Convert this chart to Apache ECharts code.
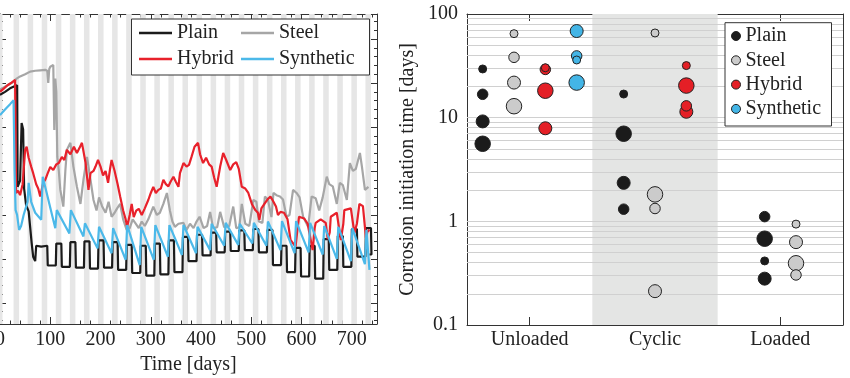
<!DOCTYPE html>
<html><head><meta charset="utf-8">
<script src="https://cdn.jsdelivr.net/npm/echarts@6/dist/echarts.min.js"></script>
<style>html,body{margin:0;padding:0;background:#fff}#c{width:850px;height:378px}</style>
</head><body><div id="c"></div>
<script>
// ================= LEFT PANEL DATA (time series, value units: mV) =================
const wetPeriods = [[0,5],[27,38],[55,66],[83,94],[111,122],[139,150],[167,178],[195,206],[223,234],[251,262],[279,290],[307,318],[335,346],[363,374],[391,402],[419,430],[447,458],[475,486],[503,514],[531,542],[559,570],[587,598],[615,626],[643,654],[671,682],[699,710],[727,738]];
const timeTicks = [0,100,200,300,400,500,600,700];

// Plain: explicit early part, then per-cycle plateau values (cycles 3..26)
const plainEarly = [[0,-127],[10,-120],[20,-112],[30,-107],[34,-105],[35,-336],[40,-322],[43,-191],[46,-205],[48,-340],[52,-378],[57,-392],[63,-464],[66,-495],[70,-505],[72,-470],[82,-472]];
const plainHigh = [-470,-465,-462,-460,-458,-462,-468,-470,-465,-458,-450,-445,-440,-438,-435,-432,-434,-470,-475,-470,-455,-448,-432,-430];
const plainLow  = [-515,-518,-520,-522,-520,-525,-532,-538,-535,-530,-505,-492,-485,-482,-480,-485,-514,-530,-540,-545,-525,-518,-495,-490];

// Synthetic: explicit early part, then per-cycle peak / trough (cycles 3..26)
const synthEarly = [[0,-173],[10,-160],[20,-148],[27,-139],[29,-300],[31,-389],[34,-400],[38,-434],[42,-425],[47,-400],[52,-381],[55,-370],[57,-327],[62,-370],[70,-395],[82,-411]];
const synthPeak = [-313,-389,-389,-419,-427,-430,-423,-427,-423,-423,-423,-427,-420,-418,-420,-418,-415,-414,-414,-418,-425,-427,-430,-434];
const synthLow  = [-430,-442,-449,-476,-487,-502,-514,-502,-495,-491,-487,-480,-470,-468,-465,-470,-480,-487,-485,-490,-500,-505,-512,-525];

// Hybrid (explicit)
const hybridSeries = [[0,-120],[8,-112],[15,-105],[22,-100],[30,-93],[32,-350],[36,-345],[40,-355],[45,-330],[50,-252],[53,-245],[57,-270],[62,-290],[66,-305],[72,-330],[76,-340],[80,-358],[86,-327],[90,-320],[95,-305],[100,-291],[106,-298],[112,-285],[117,-282],[123,-268],[128,-275],[133,-252],[140,-262],[147,-245],[153,-259],[158,-248],[163,-236],[166,-240],[170,-280],[176,-343],[180,-305],[186,-300],[190,-290],[195,-275],[200,-290],[205,-310],[210,-300],[215,-327],[219,-295],[222,-275],[228,-300],[234,-330],[239,-358],[245,-390],[250,-410],[253,-427],[258,-400],[262,-375],[266,-405],[271,-390],[276,-386],[282,-400],[288,-385],[295,-366],[300,-350],[305,-336],[310,-350],[315,-343],[320,-340],[325,-320],[330,-330],[335,-335],[339,-325],[345,-313],[350,-325],[355,-336],[358,-305],[365,-282],[371,-290],[376,-286],[381,-268],[387,-245],[394,-236],[398,-262],[404,-282],[410,-270],[416,-285],[421,-290],[426,-315],[431,-336],[438,-290],[444,-259],[450,-275],[458,-298],[464,-285],[470,-280],[475,-295],[481,-336],[488,-340],[494,-350],[501,-375],[508,-389],[513,-395],[516,-411],[520,-385],[526,-375],[532,-365],[538,-358],[544,-370],[549,-381],[553,-400],[558,-393],[565,-395],[572,-410],[578,-457],[588,-472],[592,-430],[595,-404],[605,-408],[612,-420],[622,-480],[626,-430],[628,-418],[638,-410],[648,-418],[652,-455],[656,-440],[658,-404],[670,-395],[678,-457],[683,-420],[685,-389],[698,-385],[705,-441],[710,-420],[715,-375],[722,-380],[728,-452],[731,-438],[735,-434]];

// Steel (explicit)
const steelSeries = [[0,-115],[15,-105],[27,-97],[33,-90],[40,-85],[50,-80],[60,-74],[70,-72],[80,-71],[90,-70],[94,-72],[96,-100],[98,-68],[100,-63],[106,-59],[108,-207],[110,-90],[112,-120],[114,-268],[117,-300],[120,-343],[126,-381],[130,-300],[133,-252],[140,-236],[146,-290],[153,-336],[160,-375],[166,-320],[173,-268],[180,-320],[186,-366],[192,-390],[197,-360],[203,-380],[210,-395],[216,-370],[222,-404],[228,-395],[233,-385],[239,-375],[245,-410],[252,-434],[258,-430],[264,-410],[270,-420],[276,-430],[282,-415],[288,-425],[295,-410],[305,-381],[312,-400],[318,-395],[325,-375],[332,-350],[338,-390],[343,-415],[348,-427],[355,-420],[365,-418],[371,-434],[378,-420],[385,-430],[391,-415],[397,-404],[405,-430],[412,-425],[418,-393],[424,-430],[432,-428],[438,-393],[446,-428],[456,-425],[464,-381],[470,-430],[476,-428],[481,-375],[488,-420],[496,-425],[504,-366],[510,-370],[515,-415],[522,-418],[527,-358],[533,-365],[540,-405],[544,-350],[550,-355],[557,-358],[563,-365],[570,-404],[576,-400],[583,-343],[590,-350],[596,-360],[603,-404],[613,-427],[620,-358],[628,-362],[635,-390],[642,-360],[650,-313],[655,-330],[662,-335],[670,-375],[676,-327],[682,-332],[690,-366],[696,-282],[702,-300],[708,-295],[716,-259],[720,-290],[726,-343],[733,-336]];

// ================= RIGHT PANEL DATA =================
const groups = ['Unloaded','Cyclic','Loaded'];
// [groupIndex, initiation time (days), specimen size class]
const plainPts  = [[0,5.6,4],[0,9.2,3],[0,16.8,2],[0,29.5,1],[1,7.0,4],[1,2.35,3],[1,1.31,2],[1,16.9,1],[2,0.68,4],[2,0.28,3],[2,1.11,2],[2,0.415,1]];
const steelPts  = [[0,12.9,4],[0,21.8,3],[0,38.2,2],[0,64.6,1],[1,1.82,4],[1,0.212,3],[1,1.33,2],[1,65.6,1],[2,0.394,4],[2,0.63,3],[2,0.304,2],[2,0.94,1]];
const hybridPts = [[0,18.2,4],[0,7.9,3],[0,29.2,2],[0,30.3,1],[1,20.4,4],[1,11.4,3],[1,13.0,2],[1,31.8,1]];
const synthPts  = [[0,21.8,4],[0,68.5,3],[0,39.4,2],[0,36.0,1]];
const yTicksRight = [0.1,1,10,100];

// ================= BUILD =================
const FONT = 'Liberation Serif';
const FS = 20;
const TXT = '#222';
const AX = '#333';
const LINE_COL = {Plain:'#1b1b1b', Steel:'#a6a6a6', Hybrid:'#e8212b', Synthetic:'#4cb9e9'};
const DOT_COL  = {Plain:'#1b1b1b', Steel:'#cbcbcb', Hybrid:'#e41f26', Synthetic:'#43b5e6'};

function plateauSeries(early, highs, lows, firstK) {
  const out = early.slice();
  for (let i = 0; i < highs.length; i++) {
    const k = firstK + i;
    const s = wetPeriods[k][0], e = wetPeriods[k][1];
    out.push([s, out[out.length-1][1]]);
    out.push([s+1, highs[i]]);
    out.push([e, highs[i]]);
    out.push([e+1, lows[i]]);
  }
  out.push([735, lows[lows.length-1]]);
  return out;
}
function sawSeries(early, peaks, lows, firstK) {
  const out = early.slice();
  for (let i = 0; i < peaks.length; i++) {
    const k = firstK + i;
    const s = wetPeriods[k][0];
    const next = (k+1 < wetPeriods.length) ? wetPeriods[k+1][0]-1 : 735;
    out.push([s, out[out.length-1][1]]);
    out.push([s+2, peaks[i]]);
    out.push([next, lows[i]]);
  }
  return out;
}
const plainSeries = plateauSeries(plainEarly, plainHigh, plainLow, 3);
const synthSeries = sawSeries(synthEarly, synthPeak, synthLow, 3);

const scatterDefs = [
  {name:'Plain', pts:plainPts},
  {name:'Steel', pts:steelPts},
  {name:'Hybrid', pts:hybridPts},
  {name:'Synthetic', pts:synthPts}
];
const diam = {1:8, 2:10.5, 3:13, 4:15.5};
const scatterSeries = scatterDefs.map((d) => ({
  name: d.name, type: 'scatter', xAxisIndex: 4, yAxisIndex: 2, z: 4,
  symbol: 'circle',
  symbolSize: (v) => diam[v[2]],
  itemStyle: {color: DOT_COL[d.name], borderColor: '#222', borderWidth: 1, opacity: 1},
  data: d.pts.map((p) => {
    const present = scatterDefs.filter(o => o.pts.some(q => q[0] === p[0]));
    const rank = present.indexOf(d);
    const off = (rank - (present.length - 1) / 2) * 0.25;
    return [p[0] + 0.5 + off, p[1], p[2]];
  })
}));

const gridVals = [];
[0.1,1,10].forEach(dec => { for (let m = 1; m <= 9; m++) if (!(dec===0.1 && m===1)) gridVals.push(+(m*dec).toPrecision(3)); });

const tickCommon = {show:true, inside:true, length:7, lineStyle:{color:AX, width:1}};
const lineCommon = {show:true, onZero:false, lineStyle:{color:AX, width:1}};
const lab = {fontFamily:FONT, fontSize:FS, color:TXT};

const lineLegendItem = (n) => ({name:n, icon:'rect', itemStyle:{color:LINE_COL[n], borderWidth:0, opacity:1}});
const dotLegendItem = (n) => ({name:n, icon:'circle', itemStyle:{color:DOT_COL[n], borderColor:'#222', borderWidth:1, opacity:1}});

const option = {
  animation: false,
  backgroundColor: '#fff',
  grid: [
    {left:0, right:473, top:14, bottom:54, containLabel:false, outerBoundsMode:'none'},
    {left:467, right:7, top:14, bottom:53, containLabel:false, outerBoundsMode:'none'}
  ],
  xAxis: [
    {type:'value', gridIndex:0, position:'bottom', min:0, max:750, interval:100,
     axisLine:lineCommon, axisTick:tickCommon, minorTick:{show:true, splitNumber:5, length:3.5, lineStyle:{color:AX}},
     splitLine:{show:false},
     axisLabel:Object.assign({margin:6, showMaxLabel:false}, lab),
     name:'Time [days]', nameLocation:'middle', nameGap:30, nameTextStyle:lab},
    {type:'value', gridIndex:0, position:'top', min:0, max:750, interval:100,
     axisLine:lineCommon, axisTick:tickCommon, minorTick:{show:true, splitNumber:5, length:3.5, lineStyle:{color:AX}},
     splitLine:{show:false}, axisLabel:{show:false}},
    {type:'category', gridIndex:1, position:'bottom', data:groups, boundaryGap:true,
     axisLine:lineCommon, axisTick:Object.assign({alignWithLabel:true}, tickCommon, {length:8}),
     axisLabel:Object.assign({margin:5}, lab)},
    {type:'category', gridIndex:1, position:'top', data:groups, boundaryGap:true,
     axisLine:lineCommon, axisTick:Object.assign({alignWithLabel:true}, tickCommon, {length:7}),
     axisLabel:{show:false}},
    {type:'value', gridIndex:1, min:0, max:3, show:false}
  ],
  yAxis: [
    {type:'value', gridIndex:0, position:'left', min:-648, max:57,
     axisLine:lineCommon, axisTick:Object.assign({}, tickCommon, {length:6}),
     minorTick:{show:true, splitNumber:5, length:3, lineStyle:{color:AX}},
     splitLine:{show:false}, axisLabel:{show:false}},
    {type:'value', gridIndex:0, position:'right', min:-648, max:57,
     axisLine:lineCommon, axisTick:Object.assign({}, tickCommon, {length:6}),
     minorTick:{show:true, splitNumber:5, length:3, lineStyle:{color:AX}},
     splitLine:{show:false}, axisLabel:{show:false}},
    {type:'log', logBase:10, gridIndex:1, position:'left', min:yTicksRight[0], max:yTicksRight[yTicksRight.length-1],
     axisLine:lineCommon, axisTick:Object.assign({}, tickCommon, {length:8}),
     splitLine:{show:false}, minorTick:{show:false},
     axisLabel:Object.assign({margin:9}, lab),
     name:'Corrosion initiation time [days]', nameLocation:'middle', nameGap:49, nameTextStyle:lab},
    {type:'log', logBase:10, gridIndex:1, position:'right', min:0.1, max:100,
     axisLine:lineCommon, axisTick:Object.assign({}, tickCommon, {length:8}),
     splitLine:{show:false}, axisLabel:{show:false}}
  ],
  legend: [
    {data:['Plain','Hybrid'].map(lineLegendItem), orient:'vertical', left:139, top:23, padding:0, itemGap:6,
     itemWidth:33, itemHeight:2.6, textStyle:lab, selectedMode:false, z:20},
    {data:['Steel','Synthetic'].map(lineLegendItem), orient:'vertical', left:241, top:23, padding:0, itemGap:6,
     itemWidth:33, itemHeight:2.6, textStyle:lab, selectedMode:false, z:20},
    {data:['Plain','Steel','Hybrid','Synthetic'].map(dotLegendItem), orient:'vertical', left:731, top:26, padding:0, itemGap:4.3,
     itemWidth:9, itemHeight:9, textStyle:lab, selectedMode:false, z:20}
  ],
  graphic: [
    {type:'rect', z:15, shape:{x:131.5, y:19, width:238, height:56}, style:{fill:'#fff', stroke:AX, lineWidth:1}},
    {type:'rect', z:15, shape:{x:725, y:22.7, width:106.5, height:103.3}, style:{fill:'#fff', stroke:AX, lineWidth:1}}
  ],
  series: [
    {name:'wet', type:'line', xAxisIndex:0, yAxisIndex:0, data:[], silent:true, z:1,
     markArea:{silent:true, z:1, itemStyle:{color:'#e6e6e6'},
       data: wetPeriods.map(p => [{xAxis:p[0]},{xAxis:p[1]}])}},
    {name:'Plain', type:'line', xAxisIndex:0, yAxisIndex:0, data:plainSeries, symbol:'none', color:LINE_COL.Plain, lineStyle:{width:2.2}, z:3},
    {name:'Steel', type:'line', xAxisIndex:0, yAxisIndex:0, data:steelSeries, symbol:'none', color:LINE_COL.Steel, lineStyle:{width:2.2}, z:3},
    {name:'Hybrid', type:'line', xAxisIndex:0, yAxisIndex:0, data:hybridSeries, symbol:'none', color:LINE_COL.Hybrid, lineStyle:{width:2.2}, z:3},
    {name:'Synthetic', type:'line', xAxisIndex:0, yAxisIndex:0, data:synthSeries, symbol:'none', color:LINE_COL.Synthetic, lineStyle:{width:2.2}, z:3},
    {name:'band', type:'scatter', xAxisIndex:4, yAxisIndex:2, data:[], silent:true, z:1,
     markArea:{silent:true, z:1, itemStyle:{color:'#e4e5e4'}, data:[[{xAxis:1},{xAxis:2}]]}},
    {name:'gridlines', type:'scatter', xAxisIndex:4, yAxisIndex:2, data:[], silent:true, z:2,
     markLine:{silent:true, z:2, symbol:['none','none'], label:{show:false}, lineStyle:{color:'#d0d0d0', width:1, type:'solid'},
       data: gridVals.map(v => ({yAxis:v}))}}
  ].concat(scatterSeries)
};

const chart = echarts.init(document.getElementById('c'), null, {renderer:'canvas'});
chart.setOption(option);
</script>
</body></html>
